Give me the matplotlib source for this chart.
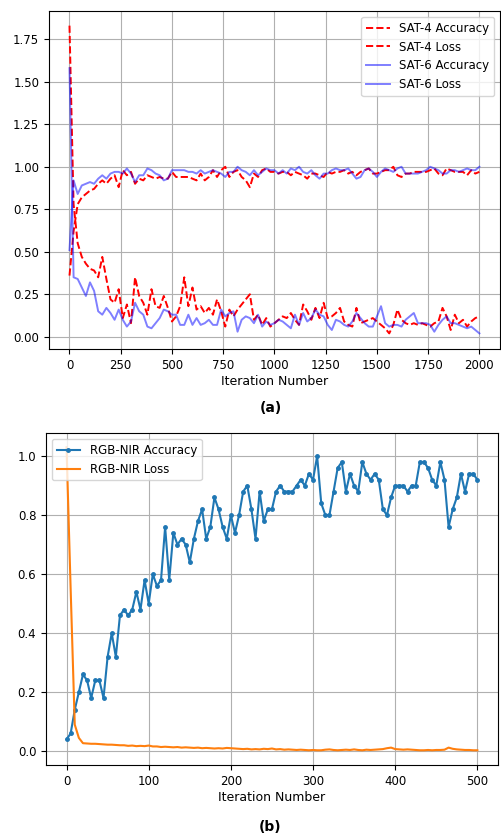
import matplotlib
matplotlib.use('Agg')
import matplotlib.pyplot as plt
import numpy as np

# ---- (a) SAT-4 / SAT-6, sampled every 20 iterations ----
sat_iters = np.arange(0, 2001, 20)

sat4_acc = [
    0.36, 0.62, 0.78, 0.82, 0.84, 0.86, 0.87, 0.90, 0.92, 0.90,
    0.93, 0.95, 0.88, 0.98, 0.95, 0.97, 0.90, 0.93, 0.92, 0.95,
    0.94, 0.93, 0.94, 0.93, 0.93, 0.97, 0.94, 0.94, 0.94, 0.94,
    0.93, 0.92, 0.96, 0.92, 0.94, 0.98, 0.94, 0.98, 1.00, 0.94,
    0.97, 0.98, 0.94, 0.92, 0.88, 0.96, 0.94, 0.98, 0.99, 0.97,
    0.97, 0.96, 0.97, 0.97, 0.95, 0.97, 0.96, 0.95, 0.93, 0.96,
    0.96, 0.95, 0.94, 0.97, 0.96, 0.97, 0.97, 0.98, 0.96, 0.97,
    0.95, 0.97, 0.98, 0.99, 0.96, 0.96, 0.97, 0.98, 0.98, 1.00,
    0.95, 0.94, 0.96, 0.96, 0.97, 0.97, 0.97, 0.97, 0.98, 0.99,
    0.96, 0.95, 0.99, 0.98, 0.97, 0.97, 0.97, 0.95, 0.98, 0.96,
    0.97,
]
sat4_loss = [
    1.83, 0.78, 0.55, 0.47, 0.43, 0.40, 0.39, 0.35, 0.47, 0.34,
    0.22, 0.20, 0.28, 0.11, 0.19, 0.08, 0.35, 0.24, 0.20, 0.13,
    0.28, 0.18, 0.17, 0.24, 0.17, 0.09, 0.12, 0.18, 0.35, 0.18,
    0.29, 0.16, 0.18, 0.14, 0.17, 0.13, 0.22, 0.15, 0.06, 0.16,
    0.12, 0.16, 0.19, 0.22, 0.25, 0.10, 0.13, 0.07, 0.11, 0.06,
    0.08, 0.10, 0.12, 0.11, 0.14, 0.10, 0.07, 0.19, 0.15, 0.10,
    0.17, 0.11, 0.20, 0.11, 0.12, 0.14, 0.17, 0.09, 0.07, 0.06,
    0.17, 0.08, 0.09, 0.10, 0.11, 0.09, 0.07, 0.05, 0.02, 0.07,
    0.16, 0.10, 0.08, 0.07, 0.08, 0.07, 0.08, 0.07, 0.06, 0.08,
    0.09, 0.17, 0.12, 0.04, 0.13, 0.08, 0.10, 0.06, 0.09, 0.11,
    0.12,
]
sat6_acc = [
    0.51, 0.92, 0.84, 0.89, 0.90, 0.91, 0.90, 0.93, 0.95, 0.93,
    0.96, 0.97, 0.97, 0.96, 0.99, 0.96, 0.91, 0.95, 0.95, 0.99,
    0.98, 0.96, 0.95, 0.92, 0.93, 0.98, 0.98, 0.98, 0.98, 0.97,
    0.97, 0.96, 0.98, 0.96, 0.97, 0.98, 0.97, 0.96, 0.94, 0.97,
    0.97, 1.00, 0.98, 0.97, 0.95, 0.98, 0.95, 0.97, 0.99, 0.98,
    0.98, 0.96, 0.98, 0.96, 0.99, 0.98, 1.00, 0.97, 0.96, 0.98,
    0.95, 0.93, 0.96, 0.96, 0.98, 0.99, 0.98, 0.98, 0.99, 0.96,
    0.93, 0.94, 0.98, 0.99, 0.97, 0.94, 0.97, 0.99, 0.98, 0.97,
    0.99, 1.00, 0.96, 0.96, 0.96, 0.96, 0.97, 0.98, 1.00, 0.99,
    0.98, 0.96, 0.96, 0.98, 0.98, 0.97, 0.98, 0.99, 0.98, 0.98,
    1.00,
]
sat6_loss = [
    1.58, 0.35, 0.34, 0.29, 0.24, 0.32, 0.27, 0.15, 0.13, 0.17,
    0.14, 0.10, 0.16, 0.10, 0.06, 0.09, 0.20, 0.15, 0.13, 0.06,
    0.05, 0.08, 0.11, 0.16, 0.15, 0.13, 0.13, 0.07, 0.07, 0.13,
    0.07, 0.11, 0.07, 0.08, 0.10, 0.07, 0.07, 0.16, 0.12, 0.14,
    0.15, 0.03, 0.10, 0.12, 0.11, 0.08, 0.13, 0.06, 0.09, 0.07,
    0.08, 0.10, 0.09, 0.07, 0.05, 0.13, 0.07, 0.14, 0.09, 0.11,
    0.16, 0.13, 0.12, 0.07, 0.04, 0.10, 0.09, 0.07, 0.06, 0.09,
    0.14, 0.11, 0.08, 0.06, 0.06, 0.12, 0.18, 0.08, 0.06, 0.07,
    0.07, 0.06, 0.10, 0.12, 0.14, 0.08, 0.08, 0.08, 0.07, 0.03,
    0.07, 0.10, 0.12, 0.08, 0.08, 0.07, 0.06, 0.05, 0.06, 0.04,
    0.02,
]

# ---- (b) RGB-NIR, sampled every 5 iterations ----
rgb_iters = np.arange(0, 501, 5)

rgb_acc = [
    0.04, 0.06, 0.14, 0.20, 0.26, 0.24, 0.18, 0.24, 0.24, 0.18,
    0.32, 0.40, 0.32, 0.46, 0.48, 0.46, 0.48, 0.54, 0.48, 0.58,
    0.50, 0.60, 0.56, 0.58, 0.76, 0.58, 0.74, 0.70, 0.72, 0.70,
    0.64, 0.72, 0.78, 0.82, 0.72, 0.76, 0.86, 0.82, 0.76, 0.72,
    0.80, 0.74, 0.80, 0.88, 0.90, 0.82, 0.72, 0.88, 0.78, 0.82,
    0.82, 0.88, 0.90, 0.88, 0.88, 0.88, 0.90, 0.92, 0.90, 0.94,
    0.92, 1.00, 0.84, 0.80, 0.80, 0.88, 0.96, 0.98, 0.88, 0.94,
    0.90, 0.88, 0.98, 0.94, 0.92, 0.94, 0.92, 0.82, 0.80, 0.86,
    0.90, 0.90, 0.90, 0.88, 0.90, 0.90, 0.98, 0.98, 0.96, 0.92,
    0.90, 0.98, 0.92, 0.76, 0.82, 0.86, 0.94, 0.88, 0.94, 0.94,
    0.92,
]
rgb_loss = [
    1.03, 0.55, 0.09, 0.045, 0.027, 0.026, 0.025, 0.025, 0.024, 0.023,
    0.022, 0.022, 0.021, 0.020, 0.020, 0.018, 0.019, 0.017, 0.018, 0.017,
    0.019, 0.016, 0.016, 0.014, 0.015, 0.014, 0.013, 0.014, 0.012, 0.013,
    0.012, 0.011, 0.012, 0.010, 0.011, 0.010, 0.009, 0.010, 0.009, 0.011,
    0.010, 0.009, 0.008, 0.007, 0.008, 0.006, 0.007, 0.006, 0.008, 0.007,
    0.009, 0.006, 0.007, 0.005, 0.006, 0.005, 0.004, 0.005, 0.004, 0.003,
    0.004, 0.003, 0.003, 0.005, 0.006, 0.004, 0.003, 0.004, 0.005, 0.004,
    0.006, 0.004, 0.003, 0.005, 0.004, 0.005, 0.006, 0.007, 0.010, 0.012,
    0.007, 0.006, 0.005, 0.006, 0.005, 0.004, 0.003, 0.003, 0.004, 0.003,
    0.004, 0.004, 0.005, 0.012, 0.008, 0.006, 0.005, 0.004, 0.004, 0.003,
    0.003,
]

plt.rcParams['font.family'] = ['DejaVu Sans']
fs = 8.5

fig = plt.figure(figsize=(5.01, 8.36), dpi=100)

ax1 = fig.add_axes([0.0978, 0.5825, 0.900, 0.4043])
ax1.plot(sat_iters, sat4_acc, '--', color='red', lw=1.4, label='SAT-4 Accuracy')
ax1.plot(sat_iters, sat4_loss, '--', color='red', lw=1.4, label='SAT-4 Loss')
ax1.plot(sat_iters, sat6_acc, '-', color='blue', alpha=0.5, lw=1.4, label='SAT-6 Accuracy')
ax1.plot(sat_iters, sat6_loss, '-', color='blue', alpha=0.5, lw=1.4, label='SAT-6 Loss')
ax1.set_xlim(-100, 2100)
ax1.set_ylim(-0.072, 1.916)
ax1.set_xticks([0, 250, 500, 750, 1000, 1250, 1500, 1750, 2000])
ax1.set_yticks([0.0, 0.25, 0.5, 0.75, 1.0, 1.25, 1.5, 1.75])
ax1.yaxis.set_major_formatter(matplotlib.ticker.FormatStrFormatter('%.2f'))
ax1.grid(True)
ax1.tick_params(labelsize=fs)
ax1.set_xlabel('Iteration Number', fontsize=fs + 0.5, labelpad=2)
ax1.legend(loc='upper right', fontsize=fs)

ax2 = fig.add_axes([0.0918, 0.0849, 0.902, 0.397])
ax2.plot(rgb_iters, rgb_acc, '.-', color='tab:blue', lw=1.5, ms=5, label='RGB-NIR Accuracy')
ax2.plot(rgb_iters, rgb_loss, '-', color='tab:orange', lw=1.5, label='RGB-NIR Loss')
ax2.set_xlim(-25, 525)
ax2.set_ylim(-0.047, 1.078)
ax2.set_xticks([0, 100, 200, 300, 400, 500])
ax2.set_yticks([0.0, 0.2, 0.4, 0.6, 0.8, 1.0])
ax2.grid(True)
ax2.tick_params(labelsize=fs)
ax2.set_xlabel('Iteration Number', fontsize=fs + 0.5, labelpad=2)
ax2.legend(loc='upper left', fontsize=fs)

fig.text(0.54, 1 - 408 / 836, '(a)', ha='center', va='center', fontsize=10, fontweight='bold')
fig.text(0.54, 1 - 827 / 836, '(b)', ha='center', va='center', fontsize=10, fontweight='bold')

fig.savefig('out.png', dpi=100)
